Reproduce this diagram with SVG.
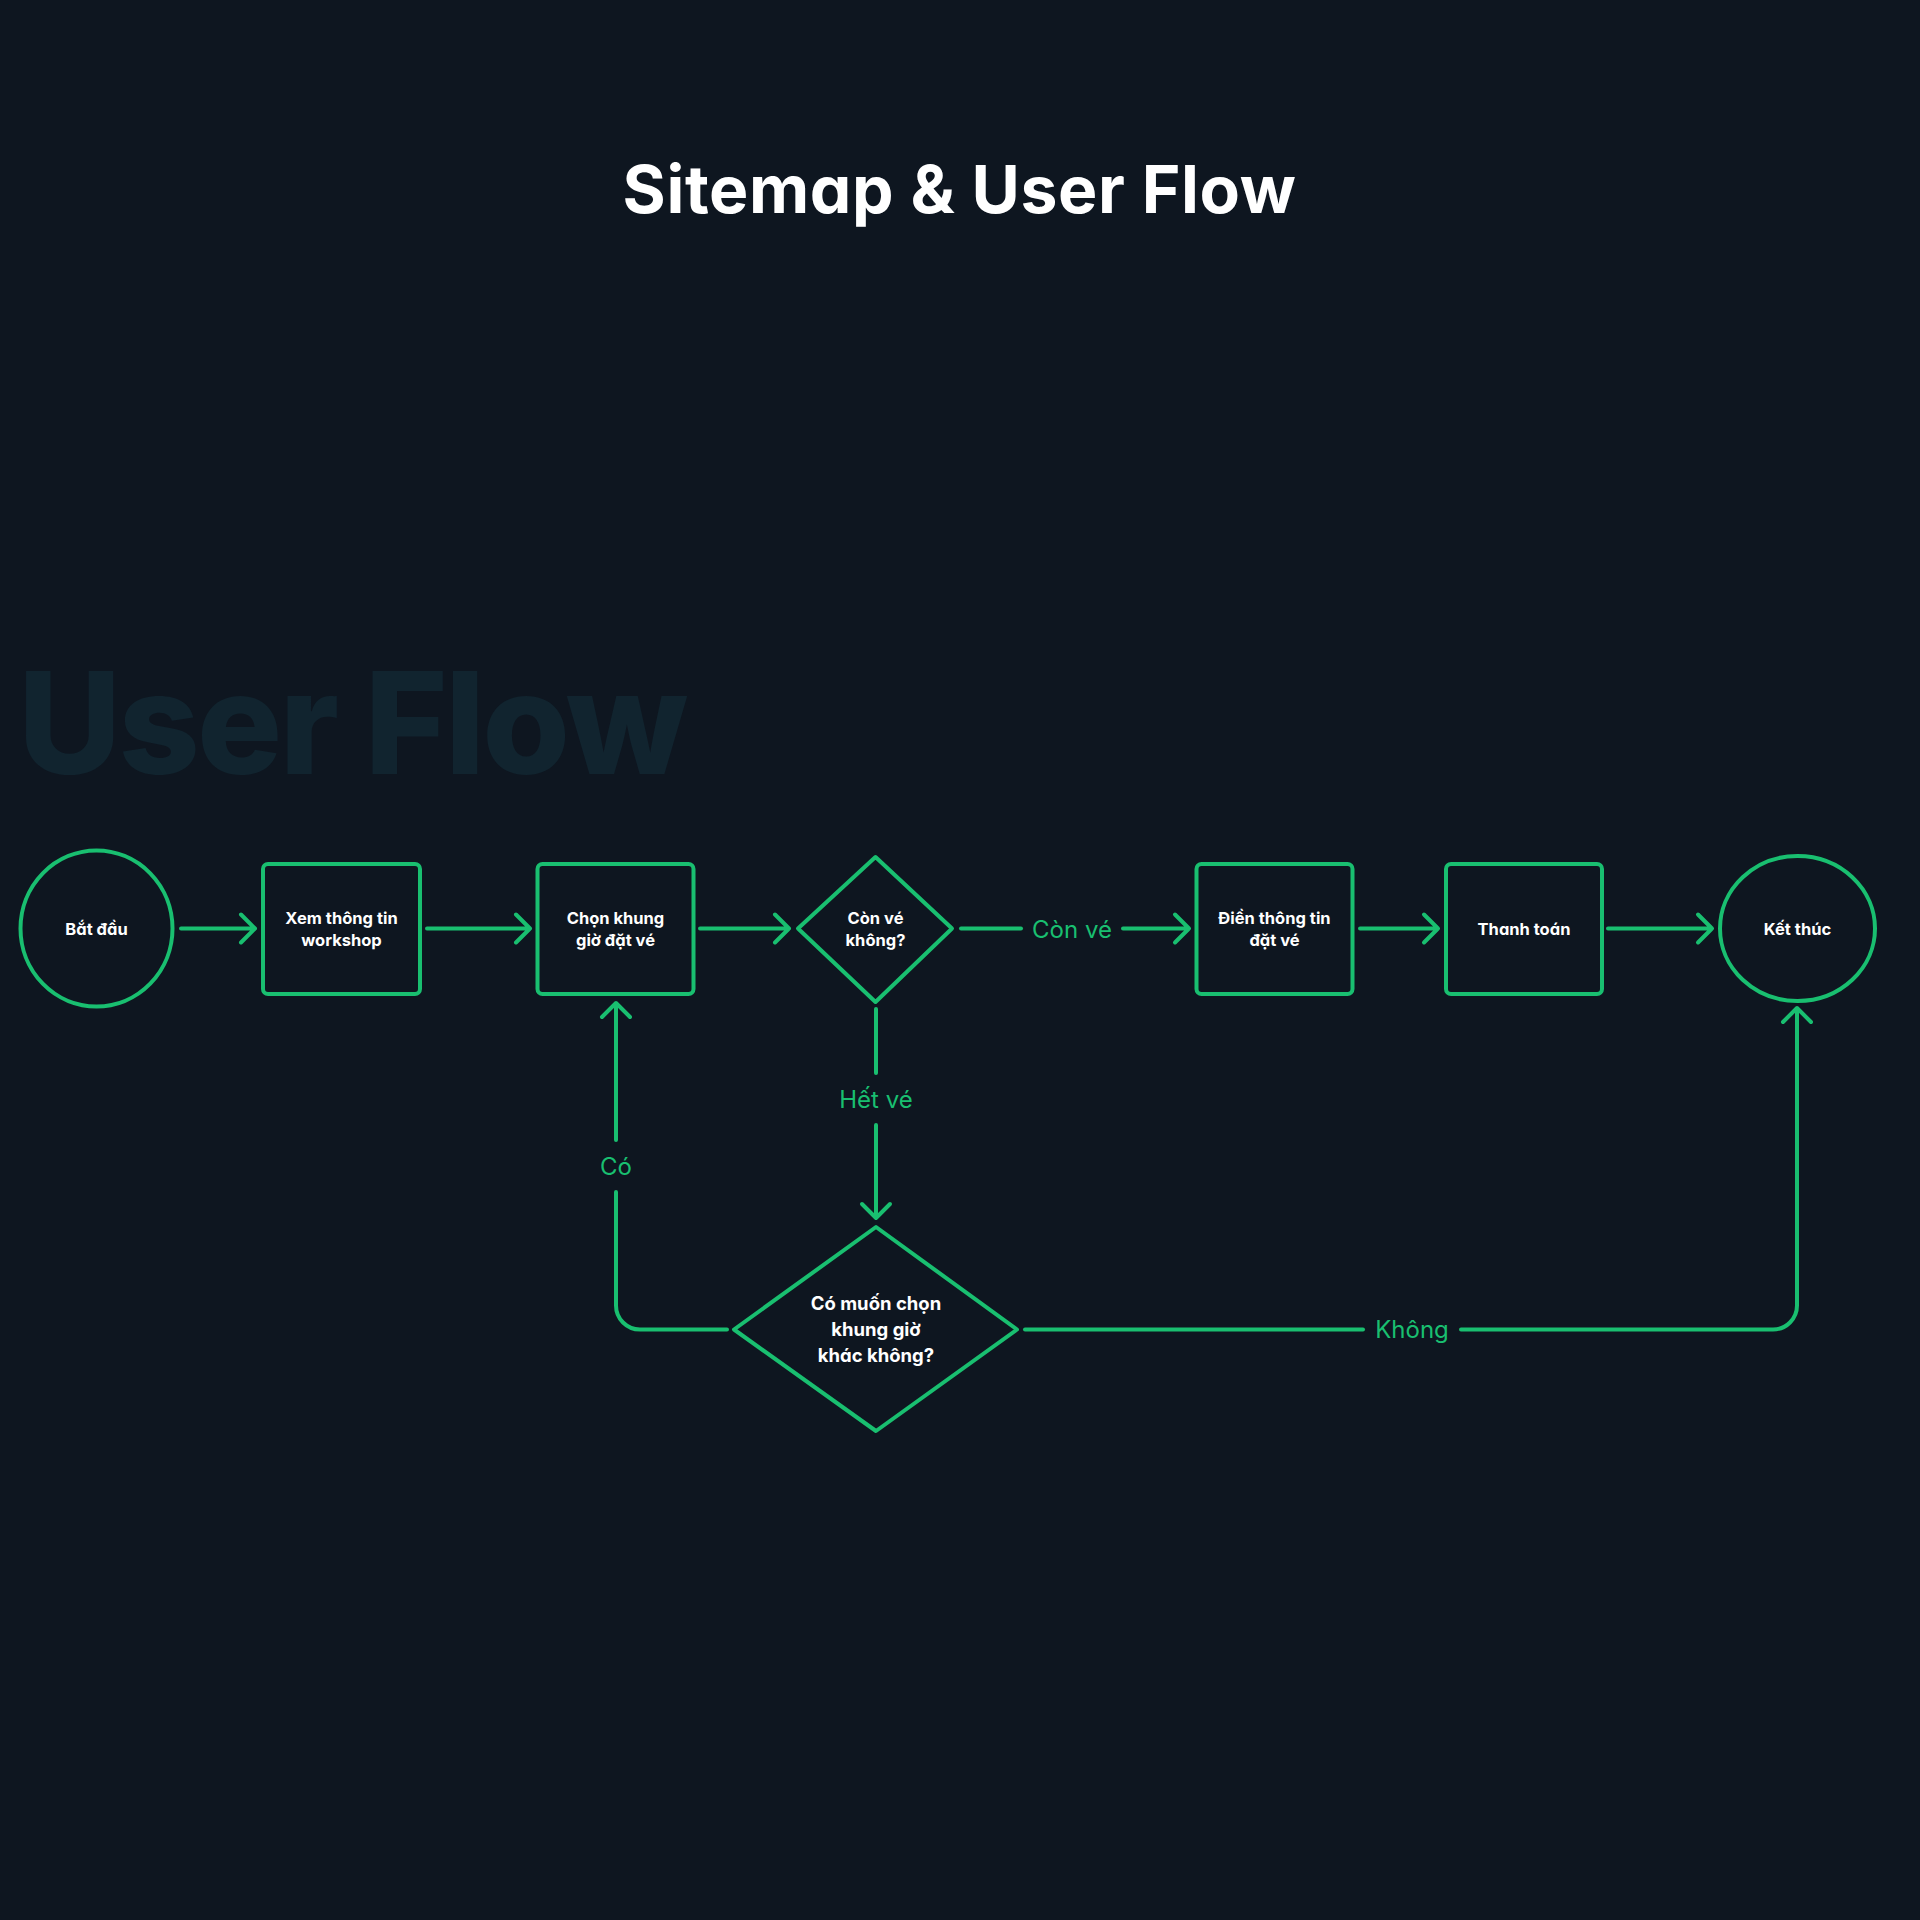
<svg xmlns="http://www.w3.org/2000/svg" width="1920" height="1920" viewBox="0 0 1920 1920">
<style>
  .bg{fill:#0e1620}
  .shape{fill:none;stroke:#19bf70;stroke-width:4;stroke-linejoin:round}
  .line{fill:none;stroke:#19bf70;stroke-width:4;stroke-linecap:round;stroke-linejoin:round}
  .nt{font-family:Inter,"Noto Sans","Liberation Sans",sans-serif;font-weight:700;font-size:16.5px;fill:#ffffff;text-anchor:middle;font-feature-settings:"cv11"}
  .dt{font-family:Inter,"Noto Sans","Liberation Sans",sans-serif;font-weight:700;font-size:18.5px;fill:#ffffff;text-anchor:middle;font-feature-settings:"cv11"}
  .lbl{font-family:Inter,"Noto Sans","Liberation Sans",sans-serif;font-weight:400;font-size:24px;fill:#19bf70;text-anchor:middle;font-feature-settings:"cv11"}
  .title{font-family:Inter,"Noto Sans","Liberation Sans",sans-serif;font-weight:700;font-size:66px;fill:#ffffff;text-anchor:middle;font-feature-settings:"cv11"}
  .wm{font-family:Inter,"Noto Sans","Liberation Sans",sans-serif;font-weight:800;font-size:142px;fill:#11242f;font-feature-settings:"cv11"}
</style>
<rect class="bg" x="0" y="0" width="1920" height="1920"/>
<text class="title" x="959.5" y="213" letter-spacing="0.6">Sitemap &amp; User Flow</text>
<text class="wm" x="18" y="774" letter-spacing="-2.8">User Flow</text>

<g id="connectors">
  <path class="line" d="M181 928.5H255M241 914.5L255 928.5L241 942.5"/>
  <path class="line" d="M427 928.5H530M516 914.5L530 928.5L516 942.5"/>
  <path class="line" d="M700 928.5H789M775 914.5L789 928.5L775 942.5"/>
  <path class="line" d="M961 928.5H1021"/>
  <text class="lbl" x="1072" y="938">Còn vé</text>
  <path class="line" d="M1123 928.5H1189M1175 914.5L1189 928.5L1175 942.5"/>
  <path class="line" d="M1360 928.5H1438M1424 914.5L1438 928.5L1424 942.5"/>
  <path class="line" d="M1608 928.5H1712M1698 914.5L1712 928.5L1698 942.5"/>
  <path class="line" d="M876 1009V1073"/>
  <text class="lbl" x="876" y="1108">Hết vé</text>
  <path class="line" d="M876 1125V1218M862 1204L876 1218L890 1204"/>
  <path class="line" d="M727 1329.5H640A24 24 0 0 1 616 1305.5V1192"/>
  <text class="lbl" x="616" y="1175">Có</text>
  <path class="line" d="M616 1140V1003M602 1017L616 1003L630 1017"/>
  <path class="line" d="M1025 1329.5H1363"/>
  <text class="lbl" x="1412" y="1338">Không</text>
  <path class="line" d="M1461 1329.5H1773A24 24 0 0 0 1797 1305.5V1008M1783 1022L1797 1008L1811 1022"/>
</g>

<g id="start">
  <ellipse class="shape" cx="96.5" cy="928.5" rx="76" ry="78"/>
  <text class="nt" x="96.5" y="934.5">Bắt đầu</text>
</g>
<g id="xem-thong-tin">
  <rect class="shape" x="263" y="864" width="157" height="130" rx="5"/>
  <text class="nt" x="341.5" y="924">Xem thông tin</text>
  <text class="nt" x="341.5" y="946">workshop</text>
</g>
<g id="chon-khung-gio">
  <rect class="shape" x="537.5" y="864" width="156" height="130" rx="5"/>
  <text class="nt" x="615.5" y="924">Chọn khung</text>
  <text class="nt" x="615.5" y="946">giờ đặt vé</text>
</g>
<g id="con-ve">
  <path class="shape" d="M875.5 857L952 928.5L875.5 1002L798 928.5Z"/>
  <text class="nt" x="875.5" y="924">Còn vé</text>
  <text class="nt" x="875.5" y="946">không?</text>
</g>
<g id="dien-thong-tin">
  <rect class="shape" x="1196.5" y="864" width="156" height="130" rx="5"/>
  <text class="nt" x="1274.5" y="924">Điền thông tin</text>
  <text class="nt" x="1274.5" y="946">đặt vé</text>
</g>
<g id="thanh-toan">
  <rect class="shape" x="1446" y="864" width="156" height="130" rx="5"/>
  <text class="nt" x="1524" y="934.5">Thanh toán</text>
</g>
<g id="ket-thuc">
  <ellipse class="shape" cx="1797.5" cy="928.5" rx="77.5" ry="72.5"/>
  <text class="nt" x="1797.5" y="934.5">Kết thúc</text>
</g>
<g id="chon-khung-khac">
  <path class="shape" d="M876 1227L1017 1329.5L876 1431L734 1329.5Z"/>
  <text class="dt" x="876" y="1310">Có muốn chọn</text>
  <text class="dt" x="876" y="1336">khung giờ</text>
  <text class="dt" x="876" y="1362">khác không?</text>
</g>
</svg>
